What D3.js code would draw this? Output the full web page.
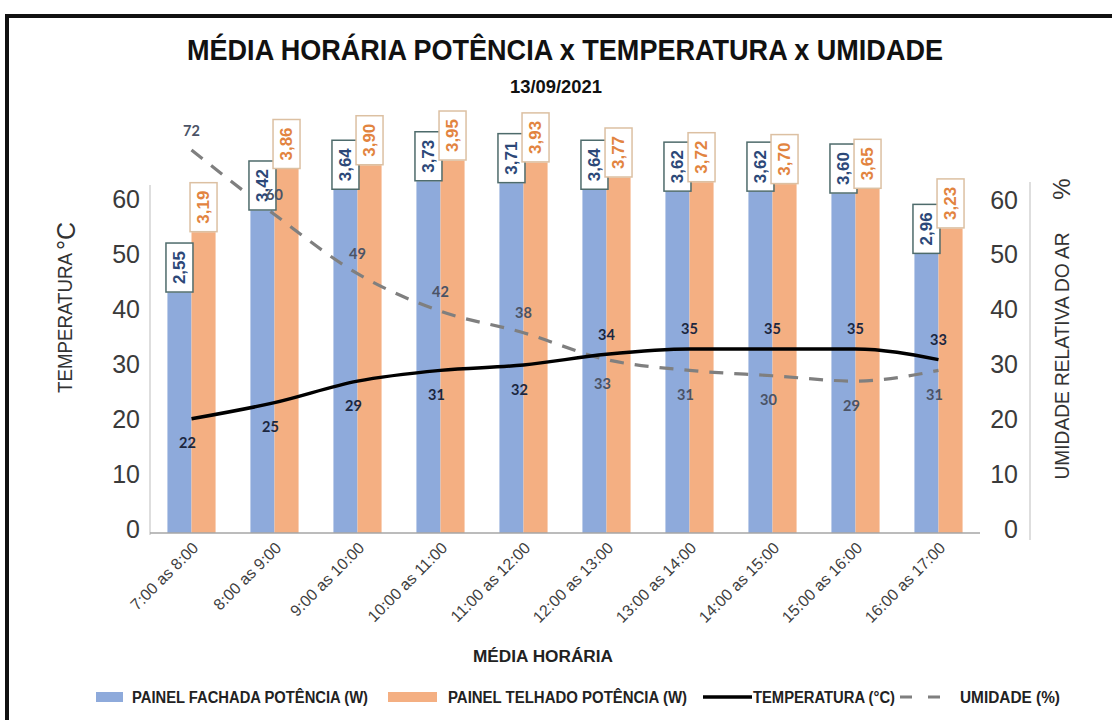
<!DOCTYPE html>
<html>
<head>
<meta charset="utf-8">
<script src="https://cdn.jsdelivr.net/npm/d3@7/dist/d3.min.js"></script>
<style>
  html, body { margin: 0; padding: 0; background: #fff; }
  svg { display: block; }
</style>
</head>
<body>
<div id="chart"></div>
<script>
// -- Data ------------------------------------------------------------
var categories = ["7:00 as 8:00", "8:00 as 9:00", "9:00 as 10:00", "10:00 as 11:00", "11:00 as 12:00",
                  "12:00 as 13:00", "13:00 as 14:00", "14:00 as 15:00", "15:00 as 16:00", "16:00 as 17:00"];
var fachada     = [2.55, 3.42, 3.64, 3.73, 3.71, 3.64, 3.62, 3.62, 3.60, 2.96];
var telhado     = [3.19, 3.86, 3.90, 3.95, 3.93, 3.77, 3.72, 3.70, 3.65, 3.23];
var temperatura = [22, 25, 29, 31, 32, 34, 35, 35, 35, 33];
var umidade     = [72, 60, 49, 42, 38, 33, 31, 30, 29, 31];
var yTicks      = [0, 10, 20, 30, 40, 50, 60];
var legendLabels = ["PAINEL FACHADA POTÊNCIA (W)", "PAINEL TELHADO POTÊNCIA (W)", "TEMPERATURA (°C)", "UMIDADE (%)"];

(function () {
  var W = 1112, H = 720;
  var BLUE = "#8eaadb", ORANGE = "#f4af82";
  var NARROW = "'Liberation Sans Narrow', 'Liberation Sans', Arial, sans-serif";
  var SANS = "'Liberation Sans', Arial, sans-serif";
  var LBL = "Lato, 'Open Sans', sans-serif";

  var svg = d3.select("#chart").append("svg").attr("width", W).attr("height", H);
  svg.append("rect").attr("width", W).attr("height", H).attr("fill", "#fff");

  // frame (right and bottom edges fall outside the picture, as in the scan)
  svg.append("rect").attr("x", 7).attr("y", 16).attr("width", 1130).attr("height", 740)
    .attr("fill", "none").attr("stroke", "#111").attr("stroke-width", 4);

  // -- scales --------------------------------------------------------
  var x = d3.scaleBand().domain(categories).range([150, 980]).paddingInner(0.42).paddingOuter(0.21);
  var xs = d3.scaleBand().domain([0, 1]).range([0, x.bandwidth()]);
  var yPow = d3.scaleLinear().domain([0, 5]).range([533, 61.5]);
  var yLine = d3.scaleLinear().domain([0, 60]).range([537, 214.5]);
  var yAxL = d3.scaleLinear().domain([0, 60]).range([529, 199]);
  var yAxR = d3.scaleLinear().domain([0, 60]).range([529, 200]);
  var cx = function (c) { return x(c) + x.bandwidth() / 2; };
  var fmt = function (v) { return d3.format(".2f")(v).replace(".", ","); };

  // -- axes ----------------------------------------------------------
  var axL = svg.append("g").attr("transform", "translate(150,0)")
    .call(d3.axisLeft(yAxL).tickValues(yTicks).tickSize(0).tickPadding(10));
  axL.select(".domain").remove();
  axL.selectAll("text").attr("font-family", SANS).attr("font-size", 25).attr("fill", "#3a3a3a");
  svg.append("line").attr("x1", 150).attr("x2", 150).attr("y1", 185).attr("y2", 535)
    .attr("stroke", "#c8c8c8").attr("stroke-width", 1.2);

  var axR = svg.append("g").attr("transform", "translate(1018,0)")
    .call(d3.axisLeft(yAxR).tickValues(yTicks).tickSize(0).tickPadding(0));
  axR.select(".domain").remove();
  axR.selectAll("text").attr("font-family", SANS).attr("font-size", 25).attr("fill", "#3a3a3a");
  svg.append("line").attr("x1", 1030).attr("x2", 1030).attr("y1", 182).attr("y2", 540)
    .attr("stroke", "#c8c8c8").attr("stroke-width", 1.2);

  // -- bars ----------------------------------------------------------
  var series = [
    { vals: fachada, fill: BLUE, txt: "#2c4878", box: "#4e6b6b" },
    { vals: telhado, fill: ORANGE, txt: "#e2843f", box: "#dcc0a2" }
  ];
  series.forEach(function (s, si) {
    svg.append("g").selectAll("rect").data(categories).join("rect")
      .attr("x", function (c) { return x(c) + xs(si); })
      .attr("y", function (c, i) { return yPow(s.vals[i]); })
      .attr("width", xs.bandwidth())
      .attr("height", function (c, i) { return yPow(0) - yPow(s.vals[i]); })
      .attr("fill", s.fill);
  });

  // x axis baseline
  svg.append("line").attr("x1", 150).attr("x2", 980).attr("y1", 533).attr("y2", 533)
    .attr("stroke", "#a6a6a6").attr("stroke-width", 1.5);

  // -- lines ---------------------------------------------------------
  var line = d3.line().curve(d3.curveMonotoneX)
    .x(function (d, i) { return cx(categories[i]); })
    .y(function (d) { return yLine(d); });

  svg.append("path").datum(umidade).attr("d", line).attr("fill", "none")
    .attr("stroke", "#7f7f7f").attr("stroke-width", 3.2).attr("stroke-dasharray", "14,11");
  svg.append("path").datum(temperatura).attr("d", line).attr("fill", "none")
    .attr("stroke", "#000").attr("stroke-width", 3.5);

  // -- bar value labels (boxed, rotated) -------------------------------
  series.forEach(function (s, si) {
    var g = svg.append("g").selectAll("g").data(categories).join("g")
      .attr("transform", function (c, i) {
        return "translate(" + (x(c) + xs(si) + xs.bandwidth() / 2) + "," + (yPow(s.vals[i]) - 25) + ")";
      });
    g.append("rect").attr("x", -13.5).attr("y", -24.5).attr("width", 27).attr("height", 49)
      .attr("fill", "#fff").attr("stroke", s.box).attr("stroke-width", 1.5);
    g.append("text").attr("transform", "rotate(-90)")
      .attr("text-anchor", "middle").attr("dominant-baseline", "central")
      .attr("font-family", SANS).attr("font-weight", "bold").attr("font-size", 17)
      .attr("fill", s.txt)
      .text(function (c, i) { return fmt(s.vals[i]); });
  });

  // -- line value labels -----------------------------------------------
  // the label goes above the point when that series is the upper line, below otherwise
  function lineLabels(vals, other, color) {
    svg.append("g").selectAll("text").data(vals).join("text")
      .attr("x", function (d, i) { return cx(categories[i]) + (d >= other[i] ? 0 : -4); })
      .attr("y", function (d, i) { return yLine(d) + (d >= other[i] ? -20 : 24); })
      .attr("text-anchor", "middle").attr("dominant-baseline", "central")
      .attr("font-family", LBL).attr("font-weight", "bold").attr("font-size", 14.5)
      .attr("fill", color)
      .text(function (d) { return d; });
  }
  lineLabels(temperatura, umidade, "#1c2740");
  lineLabels(umidade, temperatura, "#4b5366");

  // -- x tick labels ---------------------------------------------------
  svg.append("g").selectAll("text").data(categories).join("text")
    .attr("transform", function (c) { return "translate(" + (cx(c) + 4) + ",545) rotate(-45)"; })
    .attr("text-anchor", "end").attr("dominant-baseline", "central")
    .attr("font-family", SANS).attr("font-size", 16).attr("fill", "#404040")
    .text(function (c) { return c; });

  // -- titles ----------------------------------------------------------
  svg.append("text").attr("x", 565).attr("y", 60).attr("text-anchor", "middle")
    .attr("font-family", NARROW).attr("font-weight", "bold").attr("font-size", 29)
    .attr("textLength", 756).attr("lengthAdjust", "spacingAndGlyphs").attr("fill", "#111")
    .text("MÉDIA HORÁRIA POTÊNCIA x TEMPERATURA x UMIDADE");
  svg.append("text").attr("x", 556).attr("y", 93).attr("text-anchor", "middle")
    .attr("font-family", NARROW).attr("font-weight", "bold").attr("font-size", 18)
    .attr("textLength", 92).attr("lengthAdjust", "spacingAndGlyphs").attr("fill", "#111")
    .text("13/09/2021");

  svg.append("text").attr("transform", "translate(64,323) rotate(-90)")
    .attr("text-anchor", "middle").attr("dominant-baseline", "central")
    .attr("font-family", NARROW).attr("font-size", 21).attr("fill", "#333")
    .attr("textLength", 140).attr("lengthAdjust", "spacingAndGlyphs")
    .text("TEMPERATURA");
  svg.append("text").attr("transform", "translate(66,236) rotate(-90)")
    .attr("text-anchor", "middle").attr("dominant-baseline", "central")
    .attr("font-family", SANS).attr("font-size", 25).attr("fill", "#333")
    .text("°C");

  svg.append("text").attr("transform", "translate(1061,356) rotate(-90)")
    .attr("text-anchor", "middle").attr("dominant-baseline", "central")
    .attr("font-family", NARROW).attr("font-size", 21).attr("fill", "#333")
    .attr("textLength", 247).attr("lengthAdjust", "spacingAndGlyphs")
    .text("UMIDADE RELATIVA DO AR");
  svg.append("text").attr("transform", "translate(1061,189) rotate(-90)")
    .attr("text-anchor", "middle").attr("dominant-baseline", "central")
    .attr("font-family", SANS).attr("font-size", 24).attr("fill", "#333")
    .text("%");

  svg.append("text").attr("x", 543).attr("y", 662).attr("text-anchor", "middle")
    .attr("font-family", NARROW).attr("font-weight", "bold").attr("font-size", 16)
    .attr("textLength", 140).attr("lengthAdjust", "spacingAndGlyphs").attr("fill", "#222")
    .text("MÉDIA HORÁRIA");

  // -- legend ----------------------------------------------------------
  var LY = 697;
  var lg = svg.append("g");
  lg.append("rect").attr("x", 96).attr("y", LY - 5).attr("width", 27).attr("height", 10).attr("fill", BLUE);
  lg.append("rect").attr("x", 388).attr("y", LY - 5).attr("width", 49).attr("height", 10).attr("fill", ORANGE);
  lg.append("line").attr("x1", 703).attr("x2", 752).attr("y1", LY).attr("y2", LY)
    .attr("stroke", "#000").attr("stroke-width", 3.5);
  lg.append("line").attr("x1", 900).attr("x2", 942).attr("y1", LY).attr("y2", LY)
    .attr("stroke", "#7f7f7f").attr("stroke-width", 3.2).attr("stroke-dasharray", "12,16");
  var legendPos = [[132, 236], [448, 239], [753, 142], [960, 100]];
  lg.selectAll("text").data(legendLabels).join("text")
    .attr("x", function (d, i) { return legendPos[i][0]; })
    .attr("y", LY).attr("dominant-baseline", "central")
    .attr("textLength", function (d, i) { return legendPos[i][1]; })
    .attr("lengthAdjust", "spacingAndGlyphs")
    .attr("font-family", NARROW).attr("font-weight", "bold").attr("font-size", 16).attr("fill", "#222")
    .text(function (d) { return d; });
})();
</script>
</body>
</html>
